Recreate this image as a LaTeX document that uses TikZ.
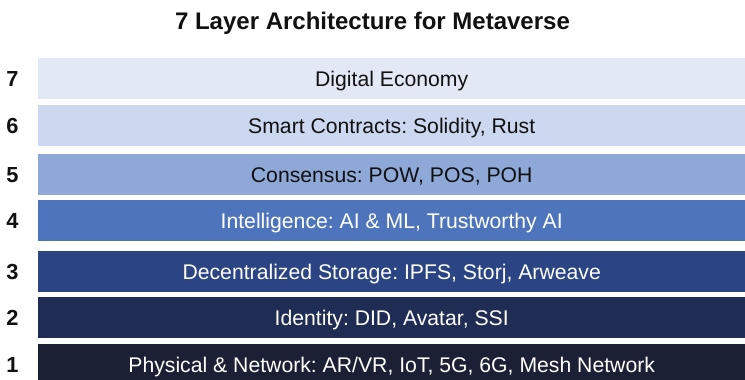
\documentclass[tikz,border=0pt]{standalone}
\usepackage{fontspec}
\setmainfont{Liberation Sans}
\frenchspacing
\definecolor{lay7}{HTML}{E2E9F5}
\definecolor{lay6}{HTML}{CCD8EF}
\definecolor{lay5}{HTML}{8EA8D8}
\definecolor{lay4}{HTML}{4E75BC}
\definecolor{lay3}{HTML}{2B4483}
\definecolor{lay2}{HTML}{1F2D55}
\definecolor{lay1}{HTML}{1B2034}
\definecolor{ink}{HTML}{111111}
\begin{document}
\begin{tikzpicture}[x=1pt,y=1pt,
  layerbar/.style={rectangle, draw=none, inner sep=0pt, anchor=north west,
    minimum width=707pt, minimum height=40.7pt,
    text height=15.2pt, text depth=0pt,
    font=\fontsize{21.2}{25}\selectfont},
  layernum/.style={inner sep=0pt, text height=15.7pt, text depth=0pt,
    text=ink, font=\fontsize{21.8}{26}\selectfont\bfseries},
  headline/.style={inner sep=0pt, anchor=base, text=ink,
    font=\fontsize{24}{28}\selectfont\bfseries}]
\useasboundingbox (0,0) rectangle (745,380);
\clip (0,0) rectangle (745,380);
\fill[white] (0,0) rectangle (745,380);

\node[headline] (title) at (372.5,350) {7 Layer Architecture for Metaverse};

% layer bars, top of each bar measured from the top edge
\node[layerbar, fill=lay7, text=ink]   (bar7) at (38,322) {Digital Economy};
\node[layerbar, fill=lay6, text=ink]   (bar6) at (38,275) {Smart Contracts: Solidity, Rust};
\node[layerbar, fill=lay5, text=ink]   (bar5) at (38,226) {Consensus: POW, POS, POH};
\node[layerbar, fill=lay4, text=white] (bar4) at (38,180) {Intelligence: AI \& ML, Trustworthy AI};
\node[layerbar, fill=lay3, text=white] (bar3) at (38,129) {Decentralized Storage: IPFS, Storj, Arweave};
\node[layerbar, fill=lay2, text=white] (bar2) at (38,83)  {Identity: DID, Avatar, SSI};
\node[layerbar, fill=lay1, text=white] (bar1) at (38,36)  {Physical \& Network: AR/VR, IoT, 5G, 6G, Mesh Network};

% layer numbers beside the bars
\foreach \k in {1,...,7}
  \node[layernum] (num\k) at (12.5,0 |- bar\k.center) {\k};
\end{tikzpicture}
\end{document}
